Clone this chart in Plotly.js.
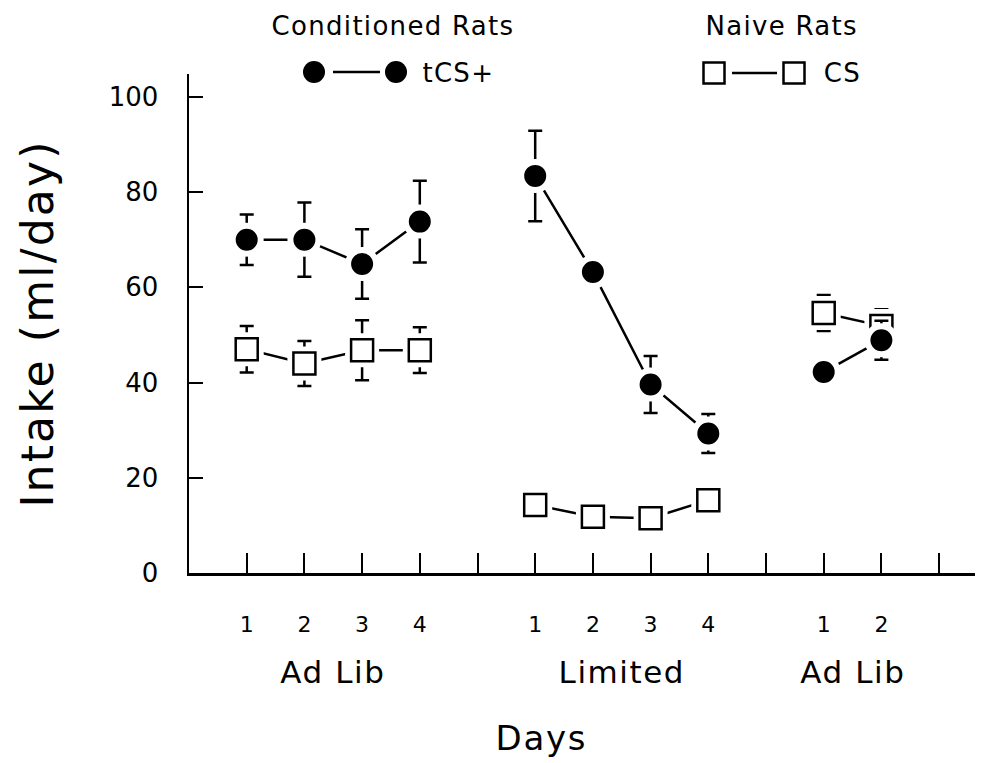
<!DOCTYPE html>
<html>
<head>
<meta charset="utf-8">
<script src="https://cdn.plot.ly/plotly-3.0.1.min.js"></script>
<style>
  html, body { margin: 0; padding: 0; background: #fff; }
  #chart { width: 989px; height: 763px; }
  /* slightly open lettering for titles and labels */
  #chart .annotation-text, #chart .ytitle { letter-spacing: 0.05em; }
</style>
</head>
<body>
<div id="chart"></div>
<script>
// Feeding phases and the day within each phase
const phases = ['Ad Lib', 'Limited', 'Ad Lib'];
const phaseOf = [0, 0, 0, 0, 1, 1, 1, 1, 2, 2];
const dayLabels = ['1', '2', '3', '4', '1', '2', '3', '4', '1', '2'];

// Conditioned rats, tCS+ intake (ml/day), mean and SEM
const tcsMean = [70.0, 70.0, 64.9, 73.8, 83.4, 63.2, 39.6, 29.3, 42.2, 48.9];
const tcsErr  = [5.3, 7.8, 7.3, 8.6, 9.5, 0, 6.0, 4.1, 0, 4.1];

// Naive rats, CS intake (ml/day), mean and SEM
const csMean = [47.0, 44.0, 46.8, 46.8, 14.3, 11.8, 11.5, 15.3, 54.6, 51.9];
const csErr  = [4.9, 4.7, 6.3, 4.8, 0, 0, 0, 0, 3.8, 3.5];

// Each phase occupies five slots on the x axis (four days + a spacer)
const SLOTS = 5;
const xPos = dayLabels.map((d, i) => phaseOf[i] * SLOTS + Number(d));

// Break the connecting line between phases
function withBreaks(vals) {
  const out = [];
  vals.forEach((v, i) => {
    if (i > 0 && phaseOf[i] !== phaseOf[i - 1]) out.push(null);
    out.push(v);
  });
  return out;
}
const xLine = withBreaks(xPos);

// Tick positions: every slot gets a tick, spacer slots are unlabeled
const nSlots = phases.length * SLOTS;
const tickVals = [], tickText = [];
for (let s = 1; s <= nSlots - 2; s++) {
  tickVals.push(s);
  const idx = xPos.indexOf(s);
  tickText.push(idx >= 0 ? dayLabels[idx] : '');
}

// Plot area geometry in pixels, for placing the header key
const G = { l: 189, t: 74, w: 786, h: 499 };
const pxX = p => (p - G.l) / G.w;
const pxY = p => (G.t + G.h - p) / G.h;

const FONT = 'DejaVu Sans, Arial, sans-serif';
const errStyle = (arr) => ({ type: 'data', array: withBreaks(arr), visible: true,
  color: '#000', thickness: 2.5, width: 7 });

const traces = [
  // CS: line + error bars
  { x: xLine, y: withBreaks(csMean), mode: 'lines', connectgaps: false,
    line: { color: '#000', width: 2.5 }, error_y: errStyle(csErr),
    hoverinfo: 'skip', showlegend: false },
  // CS: white halo around squares
  { x: xPos, y: csMean, mode: 'markers',
    marker: { symbol: 'square', size: 34, color: '#fff', line: { width: 0 } },
    hoverinfo: 'skip', showlegend: false },
  // CS: open squares
  { x: xPos, y: csMean, mode: 'markers', name: 'CS',
    marker: { symbol: 'square', size: 22, color: '#fff', line: { color: '#000', width: 2.5 } },
    showlegend: false },
  // tCS+: line + error bars
  { x: xLine, y: withBreaks(tcsMean), mode: 'lines', connectgaps: false,
    line: { color: '#000', width: 2.5 }, error_y: errStyle(tcsErr),
    hoverinfo: 'skip', showlegend: false },
  // tCS+: filled circles with a white halo
  { x: xPos, y: tcsMean, mode: 'markers', name: 'tCS+',
    marker: { symbol: 'circle', size: 28, color: '#000', line: { color: '#fff', width: 6 } },
    showlegend: false }
];

// Header key drawn with shapes + text
function dot(cx, cy, r) {
  return { type: 'circle', xref: 'paper', yref: 'paper', xsizemode: 'pixel', ysizemode: 'pixel',
    xanchor: pxX(cx), yanchor: pxY(cy), x0: -r, x1: r, y0: -r, y1: r,
    fillcolor: '#000', line: { width: 0 } };
}
function box(cx, cy, r) {
  return { type: 'rect', xref: 'paper', yref: 'paper', xsizemode: 'pixel', ysizemode: 'pixel',
    xanchor: pxX(cx), yanchor: pxY(cy), x0: -r, x1: r, y0: -r, y1: r,
    fillcolor: '#fff', line: { color: '#000', width: 2.5 } };
}
function seg(xa, xb, yy) {
  return { type: 'line', xref: 'paper', yref: 'paper', x0: pxX(xa), x1: pxX(xb),
    y0: pxY(yy), y1: pxY(yy), line: { color: '#000', width: 2.5 } };
}

const shapes = [
  dot(314, 72, 11), seg(333, 380, 72), dot(396, 72, 11),
  box(714, 73, 10.5), seg(732, 777, 73), box(794, 73, 10.5)
];

function label(text, xp, yp, size, xanchor) {
  return { text, x: pxX(xp), y: pxY(yp), xref: 'paper', yref: 'paper',
    xanchor: xanchor || 'center', yanchor: 'middle', showarrow: false,
    font: { family: FONT, size, color: '#000' } };
}

const annotations = [
  label('Conditioned Rats', 393, 26, 26),
  label('Naive Rats', 781, 26, 26),
  label('tCS+', 423, 73, 26, 'left'),
  label('CS', 823, 73, 26, 'left'),
  label('Days', 541, 738, 34)
];
// Phase names under the day numbers
phases.forEach((p, k) => {
  const xs = xPos.filter((_, i) => phaseOf[i] === k);
  annotations.push({ text: p, x: (Math.min(...xs) + Math.max(...xs)) / 2, xref: 'x',
    y: pxY(672), yref: 'paper', xanchor: 'center', yanchor: 'middle', showarrow: false,
    font: { family: FONT, size: 31, color: '#000' } });
});

const layout = {
  width: 989, height: 763,
  margin: { l: G.l, r: 989 - G.l - G.w, t: G.t, b: 763 - G.t - G.h },
  paper_bgcolor: '#fff', plot_bgcolor: '#fff',
  font: { family: FONT, color: '#000' },
  xaxis: {
    range: [0, G.w / 57.7], tickmode: 'array', tickvals: tickVals, ticktext: tickText,
    ticks: 'inside', ticklen: 20, tickwidth: 2, tickcolor: '#000',
    showline: true, linecolor: '#000', linewidth: 2.5, showgrid: false, zeroline: false,
    tickfont: { family: FONT, size: 22 }, ticklabelstandoff: 30,
    fixedrange: true
  },
  yaxis: {
    range: [0, 104.8], tickmode: 'array', tickvals: [0, 20, 40, 60, 80, 100],
    ticks: 'inside', ticklen: 14, tickwidth: 2, tickcolor: '#000',
    showline: true, linecolor: '#000', linewidth: 2.5, showgrid: false, zeroline: false,
    tickfont: { family: FONT, size: 26 }, ticklabelstandoff: 23,
    title: { text: 'Intake (ml/day)', font: { family: FONT, size: 44 }, standoff: 42 },
    fixedrange: true
  },
  shapes, annotations,
  showlegend: false
};

Plotly.newPlot('chart', traces, layout, { displayModeBar: false, staticPlot: true });
</script>
</body>
</html>
